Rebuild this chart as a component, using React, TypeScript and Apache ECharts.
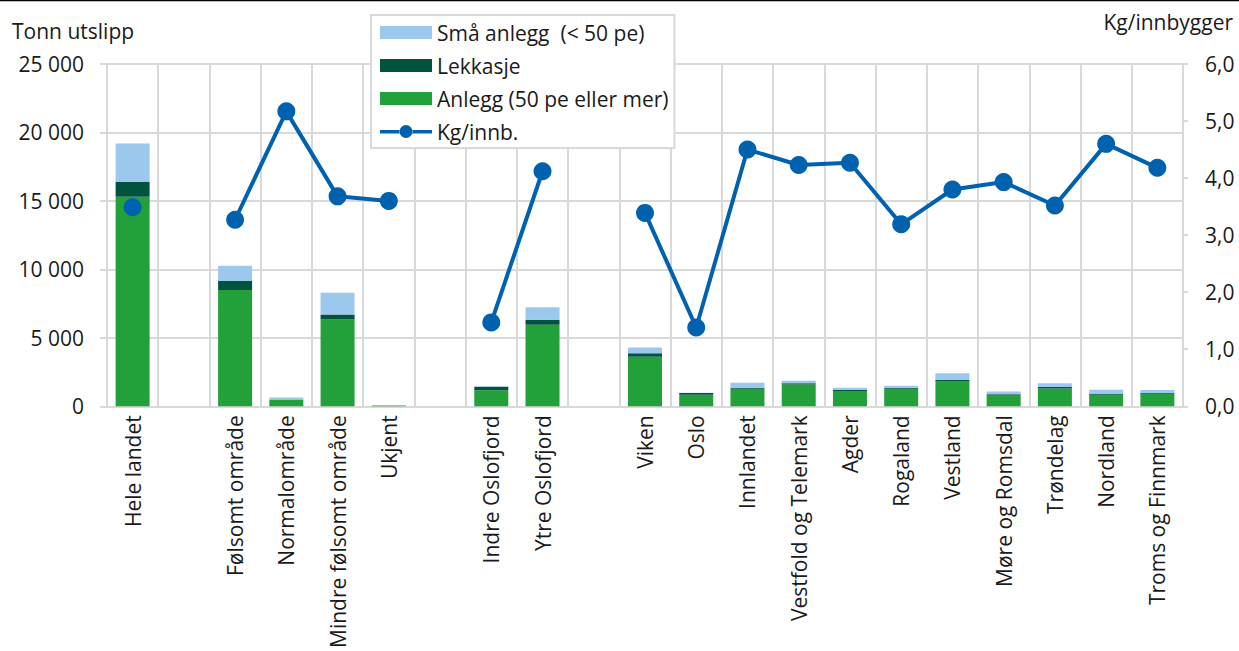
import { useEffect, useRef } from "react";
import * as echarts from "echarts";

const categories = [
  "Hele landet", "", "Følsomt område", "Normalområde", "Mindre følsomt område", "Ukjent", " ",
  "Indre Oslofjord", "Ytre Oslofjord", "  ", "Viken", "Oslo", "Innlandet", "Vestfold og Telemark",
  "Agder", "Rogaland", "Vestland", "Møre og Romsdal", "Trøndelag", "Nordland", "Troms og Finnmark",
];

const anlegg = [15300, null, 8500, 480, 6340, 30, null, 1170, 5960, null, 3610, 845, 1280, 1590, 1110, 1280, 1810, 825, 1300, 845, 915];
const lekkasje = [1080, null, 650, 15, 360, 20, null, 260, 360, null, 270, 120, 70, 100, 70, 70, 120, 50, 100, 50, 50];
const smaAnlegg = [2820, null, 1110, 140, 1590, 20, null, 30, 920, null, 410, 20, 360, 170, 170, 145, 485, 195, 290, 310, 215];
const kgInnb = [3.49, null, 3.27, 5.17, 3.68, 3.6, null, 1.47, 4.12, null, 3.39, 1.38, 4.5, 4.23, 4.27, 3.19, 3.8, 3.93, 3.52, 4.6, 4.18];

const leftTicks = { min: 0, max: 25000, interval: 5000 };
const rightTicks = { min: 0, max: 6, interval: 1 };

const FONT = "Open Sans";
const FS = 21;
const TEXT = "#1a1a1a";
const GRID = "#d9d9d9";
const C_SMA = "#9BC8EC";
const C_LEK = "#00533F";
const C_ANL = "#22A03A";
const C_LINE = "#0062AE";

const N_SMA = "Små anlegg  (< 50 pe)";
const N_LEK = "Lekkasje";
const N_ANL = "Anlegg (50 pe eller mer)";
const N_KG = "Kg/innb.";

const LINE_ICON =
  "path://M0 5 L20 5 L20 8.5 L0 8.5 Z M32 5 L52 5 L52 8.5 L32 8.5 Z M19.5 6.5 A6.5 6.5 0 1 0 32.5 6.5 A6.5 6.5 0 1 0 19.5 6.5 Z M0 0 L0.01 0 Z M52 13 L51.99 13 Z";

export default function App() {
  const ref = useRef<HTMLDivElement>(null);
  useEffect(() => {
    const chart = echarts.init(ref.current!, null, { renderer: "svg" });
    chart.setOption({
      animation: false,
      textStyle: { fontFamily: FONT },
      grid: { left: 107, right: 56, top: 64, bottom: 243, containLabel: false },
      legend: {
        orient: "vertical",
        left: 371,
        top: 15,
        itemWidth: 52,
        itemHeight: 13,
        itemGap: 12,
        padding: [7, 6, 6, 9],
        backgroundColor: "#fff",
        borderColor: GRID,
        borderWidth: 2,
        borderRadius: 0,
        textStyle: { fontSize: FS, color: TEXT, fontFamily: FONT },
        data: [
          { name: N_SMA, icon: "rect" },
          { name: N_LEK, icon: "rect" },
          { name: N_ANL, icon: "rect" },
          { name: N_KG, icon: LINE_ICON },
        ],
        z: 10,
      },
      xAxis: {
        type: "category",
        data: categories,
        boundaryGap: true,
        axisLine: { show: true, lineStyle: { color: GRID, width: 2 } },
        axisTick: { show: false },
        axisLabel: { rotate: 90, interval: 0, margin: 9, fontSize: FS, color: TEXT, fontFamily: FONT },
        splitLine: { show: true, interval: 0, lineStyle: { color: GRID, width: 2 } },
      },
      yAxis: [
        {
          type: "value",
          position: "left",
          ...leftTicks,
          axisLine: { show: true, lineStyle: { color: GRID, width: 2 } },
          axisTick: { show: true, length: 7, lineStyle: { color: GRID, width: 2 } },
          splitLine: { show: true, lineStyle: { color: GRID, width: 2 } },
          axisLabel: {
            margin: 23,
            fontSize: FS,
            color: TEXT,
            fontFamily: FONT,
            formatter: (v: number) => String(v).replace(/\B(?=(\d{3})+(?!\d))/g, " "),
          },
        },
        {
          type: "value",
          position: "right",
          ...rightTicks,
          axisLine: { show: true, lineStyle: { color: GRID, width: 2 } },
          axisTick: { show: true, length: 5, lineStyle: { color: GRID, width: 2 } },
          splitLine: { show: false },
          axisLabel: {
            margin: 22,
            fontSize: FS,
            color: TEXT,
            fontFamily: FONT,
            formatter: (v: number) => v.toFixed(1).replace(".", ","),
          },
        },
      ],
      series: [
        { name: N_ANL, type: "bar", stack: "t", data: anlegg, barWidth: 34, itemStyle: { color: C_ANL } },
        { name: N_LEK, type: "bar", stack: "t", data: lekkasje, barWidth: 34, itemStyle: { color: C_LEK } },
        { name: N_SMA, type: "bar", stack: "t", data: smaAnlegg, barWidth: 34, itemStyle: { color: C_SMA } },
        {
          name: N_KG,
          type: "line",
          yAxisIndex: 1,
          data: kgInnb,
          connectNulls: false,
          showAllSymbol: true,
          symbol: "circle",
          symbolSize: 18,
          lineStyle: { color: C_LINE, width: 4 },
          itemStyle: { color: C_LINE },
          z: 5,
        },
      ],
      graphic: [
        {
          type: "line",
          shape: { x1: 0, y1: 0.5, x2: 1239, y2: 0.5 },
          style: { stroke: "#000", lineWidth: 1.5 },
        },
        {
          type: "text",
          left: 12,
          top: 20,
          style: { text: "Tonn utslipp", fontSize: FS, fill: TEXT, fontFamily: FONT },
        },
        {
          type: "text",
          right: 6,
          top: 11,
          style: { text: "Kg/innbygger", fontSize: FS, fill: TEXT, fontFamily: FONT },
        },
      ],
    });
    return () => chart.dispose();
  }, []);
  return (
    <div
      ref={ref}
      style={{ position: "absolute", left: 0, top: 0, width: 1239, height: 651, background: "#fff" }}
    />
  );
}
